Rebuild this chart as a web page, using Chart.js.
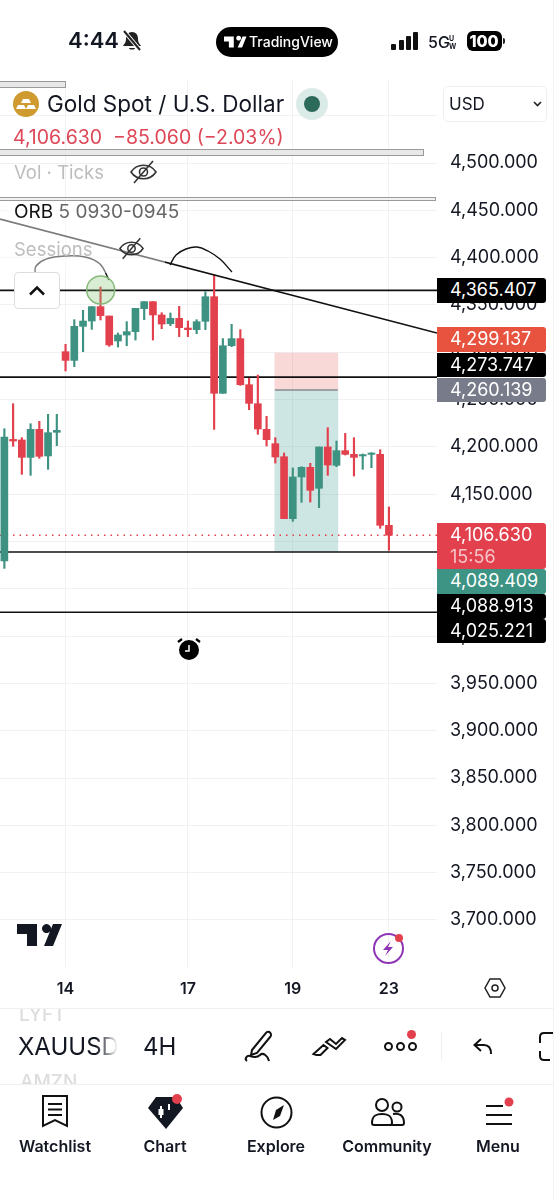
<!DOCTYPE html>
<html>
<head>
<meta charset="utf-8">
<title>XAUUSD 4H</title>
<script src="https://cdn.jsdelivr.net/npm/chart.js@4"></script>
<style>
html, body { margin: 0; padding: 0; background: #fff; }
body { width: 554px; height: 1200px; position: relative; overflow: hidden; font-family: Inter, "Noto Sans", sans-serif; color: #131722; }
canvas { position: absolute; left: 0; top: 0; }
.t { position: absolute; white-space: nowrap; transform: translateY(-50%); line-height: 1; }
.c { position: absolute; white-space: nowrap; transform: translate(-50%, -50%); line-height: 1; }
.box { position: absolute; }
svg { position: absolute; overflow: visible; }
.tag { position: absolute; left: 437px; width: 109px; color: #fff; font-size: 18px; border-radius: 0 3px 3px 0; padding-left: 13px; box-sizing: border-box; line-height: 24.5px; height: 24.5px; }
.tab { font-size: 16px; font-weight: 600; top: 1146px; }
.glass { position: absolute; left: 0; background: #e8e8e8; border: 1px solid #9a9a9a; border-left: none; box-sizing: border-box; }
</style>
</head>
<body>
<canvas id="chart" width="554" height="1200"></canvas>

<!-- status bar -->
<div class="t" style="left:68px;top:40px;font-size:22px;font-weight:600">4:44</div>
<svg style="left:122px;top:30px" width="20" height="22" viewBox="0 0 20 22"><path d="M10 2c-4 0-6 3-6 7 0 4-2 5-3 7h18c-1-2-3-3-3-7 0-4-2-7-6-7zM7 18c0 2 6 2 6 0z" fill="#222"/><path d="M2 1l16 19" stroke="#fff" stroke-width="4"/><path d="M2 1l16 19" stroke="#222" stroke-width="2"/></svg>
<div class="box" style="left:216px;top:27px;width:122px;height:30px;border-radius:15px;background:#000"></div>
<svg style="left:224px;top:36px" width="22" height="12" viewBox="0 0 45 22"><path d="M0 0h20v22h-10V10H0zM38 0h8l-9 22h-9zM25 3a5 5 0 1 1 0 .1z" fill="#fff"/></svg>
<div class="t" style="left:249px;top:42px;font-size:14px;color:#fff;font-weight:500">TradingView</div>
<div class="box" style="left:391px;top:44px;width:5px;height:6px;background:#111;border-radius:1px"></div>
<div class="box" style="left:399px;top:40px;width:5px;height:10px;background:#111;border-radius:1px"></div>
<div class="box" style="left:406px;top:36px;width:5px;height:14px;background:#111;border-radius:1px"></div>
<div class="box" style="left:413px;top:32px;width:5px;height:18px;background:#111;border-radius:1px"></div>
<div class="t" style="left:428px;top:42px;font-size:16px;font-weight:500">5G</div>
<div class="t" style="left:449px;top:38px;font-size:7px;font-weight:700">U</div>
<div class="t" style="left:449px;top:46px;font-size:7px;font-weight:700">W</div>
<div class="box" style="left:467px;top:31px;width:35px;height:20px;border-radius:6px;background:#000"></div>
<div class="c" style="left:484px;top:41px;font-size:16px;font-weight:800;color:#fff">100</div>
<div class="box" style="left:503px;top:38px;width:2px;height:6px;background:#222;border-radius:0 2px 2px 0"></div>

<!-- stray panel edges behind the legend -->
<div class="glass" style="top:81px;width:66px;height:7px"></div>
<div class="glass" style="top:149px;width:424px;height:7px"></div>
<div class="glass" style="top:197px;width:436px;height:4px;background:#f2f2f2"></div>

<!-- legend -->
<div class="box" style="left:0;top:205px;width:165px;height:68px;background:rgba(255,255,255,0.45)"></div>
<svg style="left:13px;top:91px" width="26" height="26" viewBox="0 0 26 26"><circle cx="13" cy="13" r="13" fill="#cf9a2f"/><path d="M10 8h6l2 4h-10zM5 14h6l2 4H3zM15 14h6l2 4H13z" fill="#fff"/></svg>
<div class="t" style="left:47px;top:104px;font-size:22.5px">Gold Spot / U.S. Dollar</div>
<div class="box" style="left:296px;top:88px;width:32px;height:32px;border-radius:50%;background:#dbece8"></div>
<div class="box" style="left:304px;top:96px;width:16px;height:16px;border-radius:50%;background:#2c6a5a"></div>
<div class="box" style="left:443px;top:86px;width:104px;height:36px;border:1px solid #eeeeee;border-radius:5px;box-sizing:border-box;background:#fff"></div>
<div class="t" style="left:449px;top:104px;font-size:17px">USD</div>
<svg style="left:533px;top:101px" width="9" height="6" viewBox="0 0 9 6"><path d="M1 1l3.5 3.5L8 1" fill="none" stroke="#222" stroke-width="1.6"/></svg>
<div class="t" style="left:13px;top:138px;font-size:19.5px;color:#dd4757">4,106.630&nbsp; −85.060 (−2.03%)</div>
<div class="t" style="left:14px;top:172px;font-size:18.5px;color:#bdbdbd">Vol · Ticks</div>
<svg style="left:130px;top:160px" width="27" height="24" viewBox="0 0 27 24"><path d="M1 12c6-9 19-9 25 0-6 9-19 9-25 0z" fill="none" stroke="#333" stroke-width="1.6"/><circle cx="13.500" cy="12" r="4" fill="none" stroke="#333" stroke-width="1.6"/><path d="M4 23L23 1" stroke="#333" stroke-width="1.6"/></svg>
<div class="t" style="left:14px;top:211px;font-size:19px;color:#666"><span style="color:#111">ORB</span> 5 0930-0945</div>
<div class="t" style="left:14px;top:249px;font-size:18.5px;color:#bdbdbd">Sessions</div>
<svg style="left:119px;top:237px" width="25" height="23" viewBox="0 0 27 24"><path d="M1 12c6-9 19-9 25 0-6 9-19 9-25 0z" fill="none" stroke="#333" stroke-width="1.6"/><circle cx="13.500" cy="12" r="4" fill="none" stroke="#333" stroke-width="1.6"/><path d="M4 23L23 1" stroke="#333" stroke-width="1.6"/></svg>
<div class="box" style="left:14px;top:272px;width:46px;height:37px;border:1px solid #dddddd;border-radius:4px;box-sizing:border-box;background:#fff"></div>
<svg style="left:28px;top:285px" width="18" height="11" viewBox="0 0 18 11"><path d="M2 9.500L9 2.500L16 9.500" fill="none" stroke="#111" stroke-width="2.500"/></svg>

<!-- alarm marker -->
<svg style="left:176px;top:635px" width="26" height="26" viewBox="0 0 26 26"><circle cx="13" cy="15" r="10" fill="#000"/><path d="M13 10v6h-4" stroke="#fff" stroke-width="1.500" fill="none"/><path d="M2 7l4-3M24 7l-4-3" stroke="#000" stroke-width="2.200"/></svg>

<!-- watermark and lightning -->
<svg style="left:17px;top:924px" width="45" height="22" viewBox="0 0 45 22"><path d="M0 0h20v22h-10V10H0zM36 0h9l-9 22h-9zM25 4.500a4.500 4.500 0 1 1 0 .1z" fill="#131722"/></svg>
<svg style="left:373px;top:933px" width="31" height="31" viewBox="0 0 31 31"><circle cx="15.500" cy="15.500" r="14.500" fill="none" stroke="#8e35b5" stroke-width="2"/><path d="M18 8l-8 9h5l-3 6 8-9h-5z" fill="#8e35b5"/><circle cx="26" cy="5" r="4" fill="#e2404d"/></svg>
<svg style="left:484px;top:978px" width="22" height="20" viewBox="0 0 22 20"><path d="M6 1h10l5 9-5 9H6l-5-9z" fill="none" stroke="#222" stroke-width="1.500"/><circle cx="11" cy="10" r="3" fill="none" stroke="#222" stroke-width="1.500"/></svg>

<!-- symbol bar -->
<div class="box" style="left:0;top:1008px;width:553px;height:1px;background:#f0f0f0"></div>
<div class="box" style="left:0;top:1084px;width:553px;height:1px;background:#f0f0f0"></div>
<div class="box" style="left:0;top:1009px;width:120px;height:13px;overflow:hidden"><div style="position:absolute;left:19px;top:-4px;font-size:19px;line-height:19px;color:#dddddd;font-weight:500">LYFT</div></div>
<div class="box" style="left:0;top:1072px;width:120px;height:12px;overflow:hidden"><div style="position:absolute;left:20px;top:0;font-size:19px;line-height:19px;color:#dddddd;font-weight:500">AMZN</div></div>
<div class="t" style="left:18px;top:1047px;font-size:24px;width:100px;overflow:hidden;line-height:30px;-webkit-mask-image:linear-gradient(90deg,#000 78%,transparent 100%)">XAUUSD</div>
<div class="t" style="left:143px;top:1047px;font-size:24px">4H</div>
<svg style="left:244px;top:1030px" width="30" height="32" viewBox="0 0 30 32" fill="none" stroke="#111" stroke-width="2"><path d="M8 20L22 3c1-1.500 3-1.500 4-.5s1.500 3 .5 4L13 23l-6 2z"/><path d="M3 31c-3-2 0-6 3-5s7 2 10-1 8 1 9 6"/></svg>
<svg style="left:312px;top:1036px" width="34" height="21" viewBox="0 0 34 21" fill="none" stroke="#111" stroke-width="2"><path d="M1.500 18l10-9 4 3-7 7h-4zM14 6l4-3 6 5 6-6 3 2-9 9z"/></svg>
<div class="box" style="left:384px;top:1042px;width:5px;height:5px;border:2px solid #111;border-radius:50%"></div>
<div class="box" style="left:396px;top:1042px;width:5px;height:5px;border:2px solid #111;border-radius:50%"></div>
<div class="box" style="left:408px;top:1042px;width:5px;height:5px;border:2px solid #111;border-radius:50%"></div>
<div class="box" style="left:407px;top:1030px;width:9px;height:9px;background:#e2404d;border-radius:50%"></div>
<div class="box" style="left:441px;top:1032px;width:1px;height:28px;background:#f0f0f0"></div>
<svg style="left:473px;top:1038px" width="20" height="17" viewBox="0 0 20 17" fill="none" stroke="#111" stroke-width="2"><path d="M8 1L1.500 7 8 13M2 7h9c5 0 7 3 7 9"/></svg>
<svg style="left:539px;top:1032px" width="15" height="29" viewBox="0 0 15 29" fill="none" stroke="#111" stroke-width="2"><path d="M15 1H5C2 1 1 3 1 5v6M1 19v5c0 2 1 4 4 4h6"/></svg>

<!-- bottom tabs -->
<svg style="left:42px;top:1095px" width="26" height="33" viewBox="0 0 26 33" fill="none" stroke="#111" stroke-width="2"><path d="M1 1h24v30l-12-6-12 6zM6 9h14M6 14.500h14M6 20h14"/></svg>
<svg style="left:148px;top:1096px" width="35" height="34" viewBox="0 0 35 34"><path d="M8 1h20l7 11-17 21L0 12z" fill="#131722"/><path d="M13 10v12M21 8v6" stroke="#fff" stroke-width="2"/><rect x="10.500" y="13" width="5" height="6" fill="#fff"/><circle cx="29" cy="3" r="5" fill="#e2404d"/></svg>
<svg style="left:260px;top:1096px" width="33" height="33" viewBox="0 0 33 33"><circle cx="16.500" cy="16.500" r="15" fill="none" stroke="#111" stroke-width="2"/><path d="M24 9l-4 11-7 4 3-10z" fill="#111"/></svg>
<svg style="left:371px;top:1098px" width="34" height="28" viewBox="0 0 34 28" fill="none" stroke="#111" stroke-width="2"><circle cx="11" cy="7" r="6"/><circle cx="26" cy="9" r="4.500"/><path d="M1 25c0-8 5-9 10-9s10 1 10 9c0 1-1 2-2 2H3c-1 0-2-1-2-2zM22 16c6-1 11 1 11 9 0 1-1 2-2 2H20"/></svg>
<svg style="left:485px;top:1098px" width="30" height="30" viewBox="0 0 30 30" fill="none" stroke="#111" stroke-width="2"><path d="M1 8h17M1 17h26M1 26h26"/><circle cx="24" cy="4" r="4.500" fill="#e2404d" stroke="none"/></svg>
<div class="c tab" style="left:55px">Watchlist</div>
<div class="c tab" style="left:165px">Chart</div>
<div class="c tab" style="left:276px">Explore</div>
<div class="c tab" style="left:387px">Community</div>
<div class="c tab" style="left:498px">Menu</div>
<div class="box" style="left:553px;top:0;width:1px;height:1200px;background:#f2f2f2"></div>

<div id="tags"></div>

<script>
// Candles, left to right, 4H bars
const opens = [4079.4, 4207.9, 4207.3, 4188.9, 4218.5, 4190.4, 4215.4, 4300.6, 4291.4, 4327.4, 4333.0, 4348.2, 4338.3, 4311.9, 4318.2, 4321.8, 4346.1, 4353.5, 4339.4, 4330.2, 4335.8, 4325.6, 4323.9, 4332.7, 4358.7, 4256.6, 4306.9, 4314.4, 4265.7, 4245.6, 4218.5, 4203.4, 4189.6, 4124.1, 4168.2, 4178.4, 4156.2, 4199.9, 4180.5, 4196.0, 4192.1, 4190.4, 4192.1, 4192.1, 4117.1];
const highs = [4219.2, 4245.6, 4209.7, 4224.5, 4227.0, 4234.4, 4234.4, 4308.4, 4334.4, 4344.3, 4348.2, 4368.9, 4338.3, 4320.3, 4332.3, 4346.4, 4353.5, 4353.5, 4341.8, 4341.5, 4348.5, 4333.0, 4334.4, 4364.0, 4381.6, 4314.4, 4329.5, 4323.9, 4272.4, 4275.9, 4232.3, 4209.7, 4193.5, 4177.7, 4179.1, 4182.6, 4199.9, 4220.3, 4206.2, 4214.3, 4209.7, 4192.5, 4193.9, 4197.0, 4136.5];
const lows = [4071.6, 4200.6, 4171.0, 4169.9, 4187.9, 4176.3, 4201.3, 4280.2, 4284.8, 4300.6, 4324.2, 4334.1, 4306.2, 4305.5, 4306.9, 4312.9, 4334.4, 4312.9, 4324.9, 4328.1, 4316.5, 4316.5, 4319.6, 4323.9, 4218.5, 4256.6, 4305.9, 4265.0, 4239.3, 4213.3, 4200.9, 4182.9, 4124.1, 4121.3, 4141.4, 4141.7, 4135.8, 4169.9, 4179.1, 4191.4, 4169.2, 4176.3, 4178.0, 4113.9, 4090.7];
const closes = [4210.4, 4206.2, 4188.9, 4218.5, 4190.0, 4215.0, 4217.5, 4291.4, 4327.4, 4333.0, 4348.2, 4338.7, 4307.7, 4318.2, 4321.8, 4346.4, 4353.5, 4339.4, 4329.8, 4335.8, 4326.0, 4323.9, 4332.3, 4358.7, 4256.6, 4306.9, 4314.4, 4265.7, 4246.0, 4218.9, 4207.6, 4189.3, 4124.1, 4168.2, 4178.4, 4154.1, 4199.9, 4180.8, 4196.0, 4192.1, 4188.9, 4191.8, 4193.5, 4117.1, 4106.63];

// Axis ticks
const dateTicks = [7, 21, 33, 44];
const dateLabels = ['14', '17', '19', '23'];
const priceTicks = [4550, 4500, 4450, 4400, 4350, 4300, 4250, 4200, 4150, 4100, 4050, 4000, 3950, 3900, 3850, 3800, 3750, 3700];

// Horizontal levels and current price
const levels = [4365.407, 4273.747, 4088.913, 4025.221];
const lastPrice = 4106.63;

// Trend line, [bar, price]
const trendX = [-0.5, 49.5];
const trendY = [4440.8, 4320.3];

// Short position tool
const positionX = 34.55;
const positionStart = 30.96;
const positionEnd = 38.14;
const positionStop = 4299.137;
const positionEntry = 4260.139;
const positionTarget = 4089.409;

// Hand drawn arcs
const arc1X = [3.5, 3.62, 4.76, 6.94, 9.23, 10.94, 11.97];
const arc1Y = [4383.8, 4391.2, 4398.5, 4401.7, 4400.7, 4393.3, 4376.4];
const arc2X = [18.95, 19.64, 20.78, 22.04, 23.3, 24.67, 26.04];
const arc2Y = [4392.2, 4402.8, 4409.1, 4411.2, 4407.0, 4398.5, 4384.8];

// Circled high
const markX = 11.02;
const markY = 4365.8;

// Price tags on the right side
const tagTexts = ['4,365.407', '4,299.137', '4,273.747', '4,260.139', '4,089.409', '4,088.913', '4,025.221'];
const tagTops = [278, 327, 352.5, 377.5, 569, 594, 618.5];
const tagColors = ['#000', '#e8533f', '#000', '#787b8a', '#3d9484', '#000', '#000'];

const GREEN = '#3d9281';
const RED = '#e2404d';
const GRID = '#f1f1f3';

const bars = closes.map((c, i) => i);
const candleColors = bars.map(i => closes[i] >= opens[i] ? GREEN : RED);

function pairs(xs, ys) {
    return xs.map((x, i) => ({ x: x, y: ys[i] }));
}

function lineSet(data, color, width, order, extra) {
    return Object.assign({
        type: 'line',
        data: data,
        borderColor: color,
        borderWidth: width,
        pointRadius: 0,
        order: order
    }, extra || {});
}

const datasets = [
    // position tool sits behind everything
    {
        data: [{ x: positionX, y: [positionEntry, positionStop] }],
        backgroundColor: 'rgba(232, 90, 90, 0.24)',
        barThickness: 63,
        order: 6
    },
    {
        data: [{ x: positionX, y: [positionTarget, positionEntry] }],
        backgroundColor: 'rgba(61, 160, 150, 0.26)',
        barThickness: 63,
        order: 6
    },
    lineSet(pairs([positionStart, positionEnd], [positionEntry, positionEntry]), '#8a8c94', 1.5, 5),
    ...levels.map(v => lineSet(pairs(trendX, [v, v]), '#111', 1.7, 4)),
    lineSet(pairs(trendX, [lastPrice, lastPrice]), RED, 1.4, 4, { borderDash: [1.5, 5] }),
    // candles, wicks under bodies
    {
        data: bars.map(i => ({ x: i, y: [lows[i], highs[i]] })),
        backgroundColor: candleColors,
        barThickness: 1.5,
        order: 3
    },
    {
        data: bars.map(i => ({ x: i, y: [opens[i], closes[i]] })),
        backgroundColor: candleColors,
        barThickness: 7,
        order: 2
    },
    // drawings on top
    lineSet(pairs(trendX, trendY), '#111', 1.7, 1),
    lineSet(pairs(arc1X, arc1Y), '#111', 1.4, 1, { tension: 0.4 }),
    lineSet(pairs(arc2X, arc2Y), '#111', 1.4, 1, { tension: 0.4 }),
    lineSet([{ x: markX, y: markY }], '#7fb874', 1.5, 0, {
        showLine: false,
        pointRadius: 14,
        pointBackgroundColor: 'rgba(130, 195, 115, 0.3)',
        pointBorderColor: '#86b97a',
        pointBorderWidth: 1.5
    })
];

Chart.defaults.font.family = 'Inter, "Noto Sans", sans-serif';

new Chart(document.getElementById('chart'), {
    type: 'bar',
    data: { datasets: datasets },
    options: {
        responsive: false,
        animation: false,
        datasets: { bar: { grouped: false } },
        layout: { autoPadding: false, padding: { top: 81, left: 0, right: 0, bottom: 0 } },
        plugins: { legend: { display: false }, tooltip: { enabled: false } },
        scales: {
            x: {
                type: 'linear',
                offset: false,
                min: -0.5,
                max: 49.5,
                grid: { color: GRID, drawTicks: false, offset: false },
                border: { display: false },
                afterBuildTicks: axis => { axis.ticks = dateTicks.map(v => ({ value: v })); },
                afterFit: axis => { axis.height = 233; axis.paddingLeft = 0; axis.paddingRight = 0; },
                ticks: {
                    autoSkip: false,
                    maxRotation: 0,
                    padding: 13,
                    color: '#131722',
                    font: { size: 16, weight: '600' },
                    callback: v => dateLabels[dateTicks.indexOf(v)]
                }
            },
            y: {
                position: 'right',
                min: 3650.33,
                max: 4586.66,
                grid: { color: GRID, drawTicks: false },
                border: { display: false },
                afterBuildTicks: axis => { axis.ticks = priceTicks.map(v => ({ value: v })); },
                afterFit: axis => { axis.width = 117; axis.paddingTop = 0; axis.paddingBottom = 0; },
                ticks: {
                    padding: 13,
                    color: '#131722',
                    font: { size: 18 },
                    callback: v => v === 4550 ? '' : v.toLocaleString('en-US', { minimumFractionDigits: 3 })
                }
            }
        }
    }
});

// Price tags over the axis
const tags = document.getElementById('tags');
tagTexts.forEach((text, i) => {
    const tag = document.createElement('div');
    tag.className = 'tag';
    tag.style.top = tagTops[i] + 'px';
    tag.style.background = tagColors[i];
    tag.textContent = text;
    tags.appendChild(tag);
});

// Current price tag with countdown
const live = document.createElement('div');
live.className = 'tag';
live.style.cssText = 'top:522.5px;height:46px;background:#e2404d;line-height:22px;padding-top:1px';
live.innerHTML = '4,106.630<br><span style="color:#f6c4c8">15:56</span>';
tags.appendChild(live);
</script>
</body>
</html>
